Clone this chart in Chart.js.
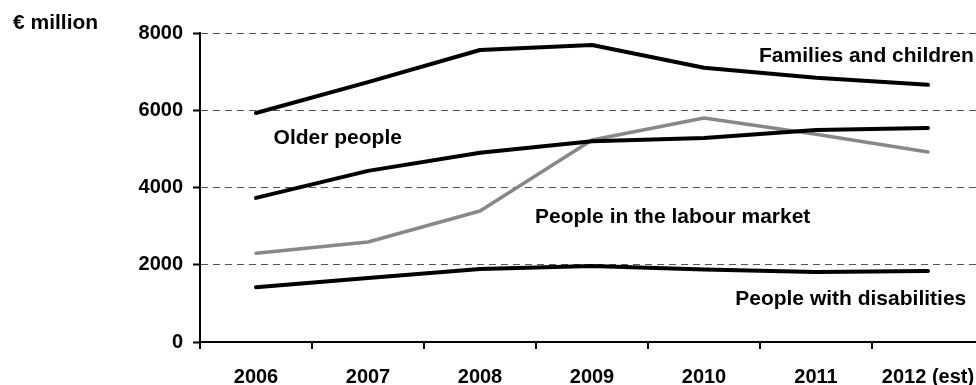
<!DOCTYPE html>
<html>
<head>
<meta charset="utf-8">
<script src="https://cdn.jsdelivr.net/npm/chart.js@4/dist/chart.umd.min.js"></script>
<style>
  html, body { margin: 0; padding: 0; background: #fff; overflow: hidden; }
  #wrap { width: 1000px; height: 385px; }
</style>
</head>
<body>
<div id="wrap"><canvas id="spendChart" width="1000" height="385"></canvas></div>
<script>
// Years on the x axis
const years = ['2006', '2007', '2008', '2009', '2010', '2011', '2012 (est)'];

// € million
const familiesChildren = [5930, 6730, 7560, 7690, 7100, 6840, 6660];
const olderPeople      = [3730, 4430, 4900, 5200, 5280, 5490, 5540];
const disabilities     = [1420, 1660, 1890, 1970, 1880, 1810, 1840];
const labourMarket     = [2300, 2590, 3390, 5230, 5800, 5380, 4920];

const yTicks = [0, 2000, 4000, 6000, 8000];

// in-chart series labels: text, category position, value position
const labelText = ['Families and children', 'Older people', 'People in the labour market', 'People with disabilities'];
const labelAtX  = [5.45, 0.73, 3.72, 5.31];
const labelAtY  = [7400, 5280, 3240, 1110];

const FAMILY = '"Liberation Sans", Arial, sans-serif';
const LABEL_FONT = 'bold 21px ' + FAMILY;

const seriesLabels = {
    id: 'seriesLabels',
    afterDatasetsDraw(chart) {
        const { ctx, scales: { x, y } } = chart;
        ctx.save();
        ctx.font = LABEL_FONT;
        ctx.fillStyle = '#000';
        ctx.textAlign = 'center';
        ctx.textBaseline = 'middle';
        labelText.forEach((t, i) => {
            ctx.fillText(t, x.getPixelForValue(labelAtX[i]), y.getPixelForValue(labelAtY[i]));
        });
        // unit caption top left
        ctx.textAlign = 'left';
        ctx.fillText('€ million', 13, 23);
        ctx.restore();
    }
};

const line = (data, color, width) => ({
    data: data,
    borderColor: color,
    borderWidth: width,
    borderCapStyle: 'round',
    borderJoinStyle: 'round',
    pointRadius: 0,
    tension: 0,
    fill: false
});

new Chart(document.getElementById('spendChart'), {
    type: 'line',
    data: {
        labels: years,
        datasets: [
            line(familiesChildren, '#000', 4),
            line(olderPeople, '#000', 4),
            line(disabilities, '#000', 4),
            line(labourMarket, '#888', 3.5)
        ]
    },
    options: {
        responsive: false,
        animation: false,
        layout: { padding: { top: 33, right: 16, left: 0, bottom: 0 } },
        plugins: { legend: { display: false }, tooltip: { enabled: false } },
        scales: {
            x: {
                offset: true,
                grid: {
                    offset: true,
                    drawOnChartArea: false,
                    drawTicks: true,
                    tickLength: 7,
                    tickColor: '#000',
                    tickWidth: 2,
                    lineWidth: 2
                },
                border: { color: '#000', width: 2 },
                ticks: {
                    color: '#000',
                    font: { family: FAMILY, size: 20, weight: 'bold' },
                    padding: 16,
                    maxRotation: 0,
                    autoSkip: false
                },
                afterFit(scale) { scale.height = 43; }
            },
            y: {
                min: 0,
                max: 8000,
                afterBuildTicks(scale) { scale.ticks = yTicks.map(v => ({ value: v })); },
                grid: {
                    color: '#555',
                    lineWidth: 1,
                    tickColor: '#000',
                    tickWidth: 2,
                    tickLength: 7,
                    tickBorderDash: []
                },
                border: { color: '#000', width: 2, dash: [7, 5] },
                ticks: {
                    color: '#000',
                    font: { family: FAMILY, size: 20, weight: 'bold' },
                    padding: 10,
                    callback: v => String(v)
                },
                afterFit(scale) { scale.width = 200; }
            }
        }
    },
    plugins: [seriesLabels]
});
</script>
</body>
</html>
